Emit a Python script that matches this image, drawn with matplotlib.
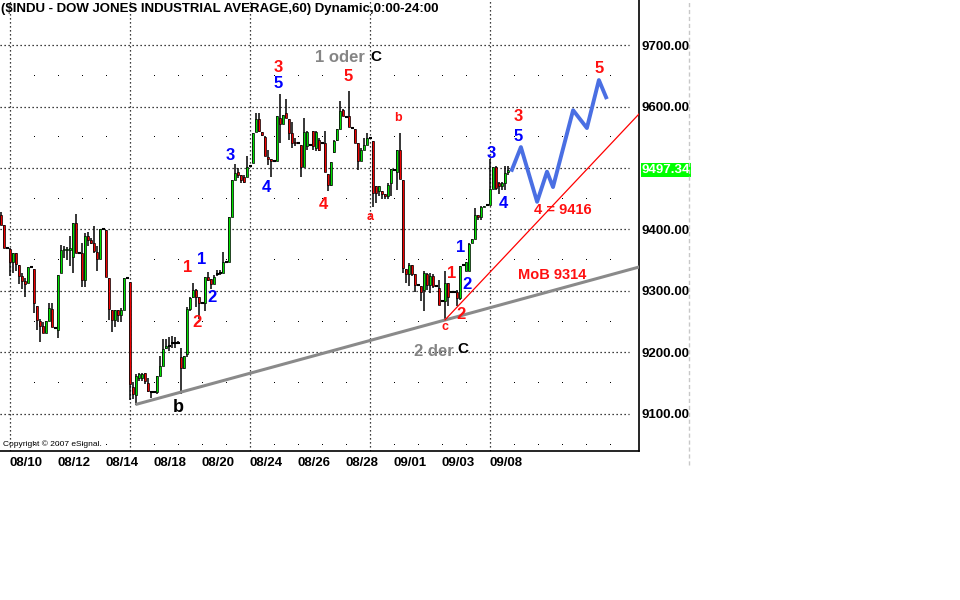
import numpy as np
import matplotlib
matplotlib.use('Agg')
import matplotlib.pyplot as plt
from matplotlib.lines import Line2D

plt.rcParams['font.family'] = ['Liberation Sans', 'DejaVu Sans']

# hourly candles (one bar = one hour)
opens = [9423, 9407, 9370, 9368, 9347, 9362, 9343, 9325, 9317, 9313,
         9339, 9335, 9276, 9251, 9243, 9231, 9252, 9271, 9240, 9237,
         9329, 9367, 9367, 9367, 9356, 9411, 9362, 9362, 9318, 9390,
         9383, 9378, 9363, 9352, 9400, 9399, 9321, 9269, 9253, 9269,
         9261, 9269, 9321, 9314, 9144, 9131, 9159, 9158, 9166, 9151,
         9135, 9135, 9135, 9162, 9178, 9207, 9211, 9215, 9215, 9216,
         9192, 9175, 9197, 9271, 9290, 9301, 9290, 9281, 9281, 9322,
         9320, 9312, 9327, 9329, 9329, 9347, 9347, 9421, 9481, 9493,
         9488, 9486, 9486, 9504, 9508, 9558, 9580, 9558, 9551, 9518,
         9514, 9511, 9511, 9582, 9571, 9590, 9579, 9557, 9542, 9540,
         9538, 9502, 9536, 9538, 9560, 9533, 9546, 9541, 9541, 9491,
         9473, 9526, 9546, 9563, 9594, 9583, 9585, 9565, 9564, 9540,
         9511, 9530, 9537, 9548, 9544, 9470, 9462, 9462, 9458, 9454,
         9475, 9497, 9493, 9530, 9481, 9336, 9328, 9343, 9327, 9310,
         9308, 9301, 9328, 9309, 9324, 9308, 9305, 9283, 9283, 9313,
         9299, 9299, 9299, 9289, 9343, 9332, 9332, 9378, 9385, 9424,
         9420, 9437, 9440, 9440, 9466, 9502, 9476, 9471, 9475, 9494,
         9497.34]
highs = [9428, 9407, 9370, 9370, 9362, 9362, 9343, 9329, 9321, 9339,
         9339, 9335, 9276, 9255, 9250, 9251, 9280, 9280, 9240, 9326,
         9375, 9373, 9372, 9389, 9411, 9425, 9362, 9378, 9395, 9396,
         9386, 9405, 9373, 9400, 9400, 9399, 9321, 9269, 9269, 9269,
         9272, 9321, 9321, 9314, 9152, 9165, 9167, 9167, 9166, 9159,
         9137, 9135, 9162, 9195, 9222, 9222, 9225, 9226, 9225, 9219,
         9208, 9195, 9274, 9290, 9313, 9303, 9290, 9281, 9323, 9331,
         9320, 9326, 9334, 9334, 9364, 9347, 9420, 9481, 9506, 9500,
         9488, 9488, 9519, 9504, 9557, 9590, 9590, 9558, 9552, 9529,
         9514, 9511, 9585, 9620, 9587, 9612, 9579, 9575, 9549, 9540,
         9538, 9582, 9560, 9538, 9560, 9560, 9549, 9541, 9560, 9491,
         9509, 9546, 9563, 9609, 9596, 9583, 9626, 9565, 9564, 9540,
         9533, 9549, 9557, 9548, 9544, 9470, 9470, 9462, 9458, 9476,
         9498, 9497, 9530, 9557, 9481, 9336, 9346, 9343, 9327, 9310,
         9308, 9332, 9329, 9329, 9327, 9308, 9318, 9283, 9332, 9313,
         9299, 9299, 9301, 9340, 9343, 9347, 9378, 9385, 9435, 9424,
         9439, 9439, 9440, 9514, 9502, 9503, 9478, 9478, 9503, 9503,
         9497.34]
lows = [9407, 9370, 9370, 9324, 9329, 9332, 9312, 9303, 9291, 9313,
        9339, 9264, 9236, 9217, 9231, 9231, 9252, 9242, 9240, 9223,
        9329, 9354, 9351, 9340, 9329, 9362, 9362, 9307, 9307, 9373,
        9377, 9362, 9332, 9352, 9400, 9323, 9253, 9234, 9242, 9250,
        9250, 9269, 9321, 9122, 9125, 9115, 9154, 9154, 9148, 9135,
        9126, 9135, 9132, 9162, 9178, 9205, 9203, 9208, 9208, 9214,
        9132, 9173, 9192, 9268, 9289, 9274, 9255, 9281, 9268, 9317,
        9304, 9311, 9324, 9326, 9329, 9347, 9347, 9421, 9481, 9484,
        9476, 9476, 9485, 9504, 9508, 9558, 9558, 9552, 9519, 9505,
        9486, 9511, 9511, 9541, 9571, 9582, 9546, 9533, 9536, 9540,
        9486, 9502, 9530, 9538, 9530, 9527, 9527, 9541, 9493, 9462,
        9470, 9524, 9544, 9563, 9584, 9583, 9566, 9565, 9541, 9497,
        9511, 9530, 9537, 9548, 9437, 9443, 9454, 9449, 9449, 9450,
        9454, 9497, 9465, 9482, 9329, 9313, 9308, 9324, 9299, 9310,
        9283, 9267, 9301, 9297, 9305, 9308, 9278, 9283, 9253, 9275,
        9299, 9299, 9275, 9286, 9343, 9332, 9332, 9378, 9385, 9416,
        9416, 9437, 9440, 9440, 9466, 9464, 9457, 9464, 9465, 9489,
        9497.34]
closes = [9407, 9370, 9370, 9347, 9362, 9344, 9325, 9317, 9312, 9339,
          9339, 9280, 9253, 9243, 9231, 9251, 9272, 9242, 9240, 9326,
          9367, 9368, 9368, 9370, 9411, 9362, 9362, 9318, 9389, 9383,
          9378, 9365, 9352, 9400, 9400, 9323, 9270, 9253, 9269, 9261,
          9269, 9321, 9321, 9149, 9132, 9162, 9165, 9165, 9154, 9137,
          9135, 9135, 9162, 9178, 9205, 9211, 9211, 9215, 9215, 9216,
          9175, 9195, 9271, 9289, 9301, 9290, 9281, 9281, 9322, 9318,
          9312, 9322, 9327, 9329, 9347, 9347, 9420, 9481, 9492, 9489,
          9480, 9478, 9502, 9504, 9557, 9580, 9560, 9553, 9520, 9514,
          9511, 9511, 9585, 9571, 9587, 9582, 9557, 9541, 9540, 9540,
          9502, 9558, 9558, 9538, 9536, 9558, 9530, 9541, 9493, 9473,
          9509, 9544, 9563, 9592, 9585, 9583, 9566, 9565, 9541, 9511,
          9530, 9537, 9549, 9548, 9459, 9459, 9470, 9457, 9454, 9473,
          9498, 9497, 9530, 9482, 9337, 9328, 9343, 9328, 9310, 9310,
          9299, 9329, 9309, 9324, 9308, 9308, 9278, 9283, 9313, 9290,
          9299, 9299, 9289, 9340, 9343, 9347, 9377, 9385, 9424, 9420,
          9437, 9439, 9440, 9466, 9502, 9467, 9471, 9475, 9492, 9497,
          9497.34]

date_labels = ['08/10', '08/12', '08/14', '08/18', '08/20', '08/24',
               '08/26', '08/28', '09/01', '09/03', '09/08']
date_pos = [8.3, 24.3, 40.3, 56.3, 72.3, 88.3, 104.3, 120.3, 136.3, 152.3, 168.3]
price_ticks = [9100, 9200, 9300, 9400, 9600, 9700]
grid_prices = [9100, 9200, 9300, 9400, 9500, 9600, 9700]
grid_x = [3, 43, 83, 123, 163]

# hand drawn lines
support_x = [45.3, 212.7]
support_y = [9116, 9339]
channel_x = [148, 212.7]
channel_y = [9253, 9588]
proj_x = [170.3, 173.3, 178.7, 182, 184, 190.7, 195.3, 199.3, 201.7]
proj_y = [9497, 9534, 9445, 9494, 9469, 9594, 9565, 9643, 9615]

RED = '#ff1010'
BLUE = '#0000ff'
GREY = '#858585'
# (text, bar, price, colour, size)
labels = [
    ('1 oder', 113, 9680, GREY, 12), ('C', 125, 9680, 'black', 11),
    ('3', 92.3, 9663, RED, 12), ('5', 92.3, 9637, BLUE, 12),
    ('5', 115.7, 9648, RED, 12), ('3', 76.3, 9521, BLUE, 12),
    ('4', 88.3, 9469, BLUE, 12), ('4', 107.3, 9440, RED, 12),
    ('a', 123, 9420, RED, 9), ('b', 132.3, 9581, RED, 9),
    ('1', 62.3, 9339, RED, 12), ('1', 67, 9352, BLUE, 12),
    ('2', 70.3, 9290, BLUE, 12), ('2', 65.3, 9248, RED, 12),
    ('b', 59, 9111, 'black', 13),
    ('3', 172.3, 9583, RED, 12), ('5', 172.3, 9552, BLUE, 12),
    ('3', 163.3, 9523, BLUE, 12), ('4', 167.3, 9443, BLUE, 12),
    ('4 = 9416', 187.3, 9432, RED, 10.5), ('MoB 9314', 183.7, 9326, RED, 10.5),
    ('1', 150.3, 9328, RED, 12), ('1', 153.3, 9370, BLUE, 12),
    ('2', 155.3, 9310, BLUE, 12), ('2', 153.3, 9261, RED, 12),
    ('c', 148, 9241, RED, 9),
    ('2 der', 144.3, 9202, GREY, 12), ('C', 154, 9206, 'black', 11),
    ('5', 199.3, 9661, RED, 12),
]

fig = plt.figure(figsize=(9.6, 6), dpi=100)
ax = fig.add_axes([0, 149 / 600, 639 / 960, 451 / 600])
ax.set_xlim(-1 / 3, 638 / 3)
ax.set_ylim(9039.8, 9773.2)

# dotted grid
dots = (0, (1, 2.2))
for p in grid_prices:
    ax.plot([-1 / 3, 209.3], [p, p], color='black', lw=0.9, ls=dots, zorder=1)
for gx in grid_x:
    ax.axvline(gx, color='black', lw=0.9, ls=dots, zorder=1)
minor_x = [v for v in range(3, 210, 8) if v not in grid_x]
minor_y = [p + 50 for p in range(9000, 9700, 100)]
mx, my = np.meshgrid(minor_x, minor_y)
ax.plot(mx.ravel(), my.ravel(), ls='none', marker=',', color='black', zorder=1)

# candles
o = np.array(opens)
h = np.array(highs)
l = np.array(lows)
c = np.array(closes)
x = np.arange(len(o))
ax.vlines(x, l, h, color='black', lw=1.1, zorder=3)
flat = np.abs(c - o) < 1
body = ~flat
cols = np.where(c >= o, '#00e000', '#ee0000')
ax.bar(x[body], np.abs(c - o)[body], bottom=np.minimum(o, c)[body], width=0.92,
       color=cols[body], edgecolor='black', lw=0.5, zorder=4)
ax.hlines(c[flat], x[flat] - 0.5, x[flat] + 0.5, color='black', lw=1.5, zorder=4)

# trend lines and projection
ax.plot(support_x, support_y, color='#8a8a8a', lw=2.2, zorder=5)
ax.plot(channel_x, channel_y, color='#ff0000', lw=0.9, zorder=5)
ax.plot(proj_x, proj_y, color='#4a6fe3', lw=2.8, zorder=6)

for s, lx, ly, col, sz in labels:
    ax.text(lx, ly, s, color=col, fontsize=sz, fontweight='bold',
            ha='center', va='center', zorder=7)

# axes look
for side in ['left', 'top']:
    ax.spines[side].set_visible(False)
for side in ['right', 'bottom']:
    ax.spines[side].set_color('black')
    ax.spines[side].set_linewidth(1.2)
ax.yaxis.tick_right()
ax.set_yticks(price_ticks)
ax.set_yticklabels(['%.2f' % v for v in price_ticks])
ax.set_xticks(date_pos)
ax.set_xticklabels(date_labels)
ax.tick_params(axis='y', length=0, pad=1.5, labelsize=9.5)
ax.tick_params(axis='x', length=0, pad=4, labelsize=9.5)
for lbl in ax.get_yticklabels() + ax.get_xticklabels():
    lbl.set_fontweight('bold')

ax.annotate('%.2f' % closes[-1], xy=(1.0, closes[-1]), xycoords=ax.get_yaxis_transform(),
            xytext=(2, 0), textcoords='offset points', ha='left', va='center',
            color='white', fontsize=9.5, fontweight='bold',
            bbox=dict(facecolor='#00ff00', edgecolor='none', pad=0.8), annotation_clip=False)

fig.text(1 / 960, 1 - 9 / 600, '($INDU - DOW JONES INDUSTRIAL AVERAGE,60) Dynamic,0:00-24:00',
         ha='left', va='center', fontsize=9.5, fontweight='bold')
fig.text(3 / 960, 1 - 444 / 600, 'Copyright \u00a9 2007 eSignal.', ha='left', va='center', fontsize=6)
fig.add_artist(Line2D([689 / 960, 689 / 960], [1 - 465 / 600, 1], color='#c8c8c8', lw=1,
                      ls=(0, (3, 2))))

fig.savefig('out.png', dpi=100)
